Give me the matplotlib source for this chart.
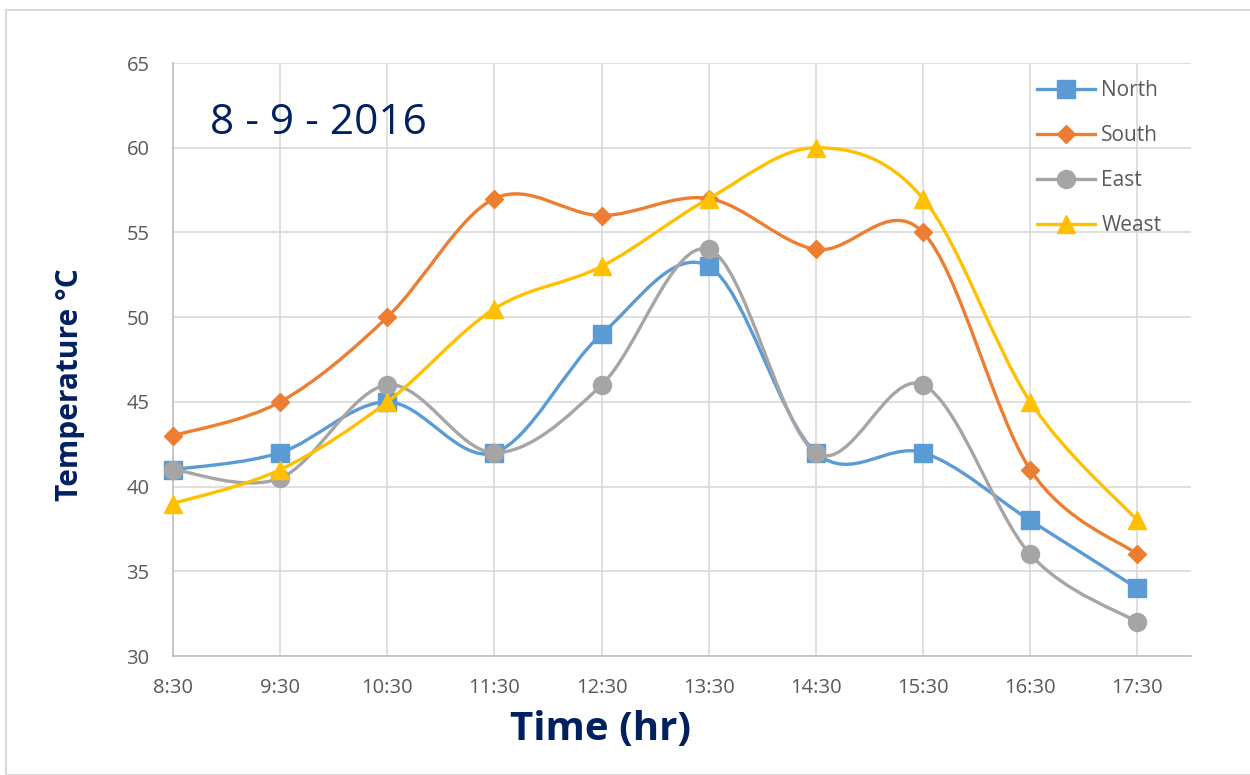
import numpy as np
import matplotlib.pyplot as plt
from matplotlib.path import Path
from matplotlib.patches import PathPatch, Rectangle
from matplotlib.lines import Line2D

times = ["8:30", "9:30", "10:30", "11:30", "12:30", "13:30", "14:30", "15:30", "16:30", "17:30"]
north = [41, 42, 45, 42, 49, 53, 42, 42, 38, 34]
south = [43, 45, 50, 57, 56, 57, 54, 55, 41, 36]
east = [41, 40.5, 46, 42, 46, 54, 42, 46, 36, 32]
weast = [39, 41, 45, 50.5, 53, 57, 60, 57, 45, 38]

series = [
    ("North", north, "#5B9BD5", "s", 13),
    ("South", south, "#ED7D31", "D", 9.5),
    ("East", east, "#A5A5A5", "o", 13),
    ("Weast", weast, "#FFC000", "^", 13),
]

navy = "#002060"
grey_txt = "#595959"
plt.rcParams['font.family'] = ['Open Sans', 'DejaVu Sans']


def smooth_path(xs, ys):
    # Excel-like smoothed line: cubic Bezier through the points
    p = np.column_stack([xs, ys]).astype(float)
    verts = [p[0]]
    codes = [Path.MOVETO]
    n = len(p)
    for i in range(n - 1):
        p0 = p[i - 1] if i > 0 else p[i]
        p3 = p[i + 2] if i + 2 < n else p[i + 1]
        c1 = p[i] + (p[i + 1] - p0) / 6.0
        c2 = p[i + 1] - (p3 - p[i]) / 6.0
        verts += [c1, c2, p[i + 1]]
        codes += [Path.CURVE4] * 3
    return Path(verts, codes)


fig = plt.figure(figsize=(12.5, 7.75), dpi=100)
fig.patches.append(Rectangle((6 / 1250, 0), 1250, (775 - 10) / 775, transform=fig.transFigure,
                             fill=False, edgecolor="#D9D9D9", linewidth=1.5))
ax = fig.add_axes([0.1384, 0.1535, 0.8144, 0.7652])

x = np.arange(len(times))
handles = []
for z, (name, vals, col, mk, ms) in enumerate(series):
    ax.add_patch(PathPatch(smooth_path(x, vals), fill=False, edgecolor=col,
                           linewidth=2.4, zorder=3 + z, capstyle='round', clip_on=False))
    ax.plot(x, vals, linestyle='none', marker=mk, markersize=ms, color=col,
            markeredgecolor=col, zorder=3.5 + z, clip_on=False)
    handles.append(Line2D([], [], color=col, linewidth=2.4, marker=mk, markersize=ms,
                          markeredgecolor=col))

ax.set_xlim(0, 9.5)
ax.set_ylim(30, 65)
ax.set_yticks(range(30, 66, 5))
ax.set_xticks(x)
ax.set_xticklabels(times)
ax.grid(True, color="#D9D9D9", linewidth=1.2)
ax.set_axisbelow(True)
for s in ["top", "right"]:
    ax.spines[s].set_visible(False)
for s in ["left", "bottom"]:
    ax.spines[s].set_color("#BFBFBF")
    ax.spines[s].set_linewidth(1.2)
ax.tick_params(axis='both', length=0, labelsize=14.5, labelcolor=grey_txt)
ax.tick_params(axis='y', pad=17)
ax.tick_params(axis='x', pad=16)

ax.text(0.036, 0.898, "8 - 9 - 2016", transform=ax.transAxes, fontsize=30.5,
        color=navy, ha='left', va='center')
fig.text(601 / 1250, 1 - 730 / 775, "Time (hr)", fontsize=29, fontweight='bold',
         color=navy, ha='center', va='center')
fig.text(70 / 1250, 1 - 385 / 775, "Temperature °C", fontsize=21.5, fontweight='bold',
         color=navy, ha='center', va='center', rotation=90)

leg = ax.legend(handles, [s[0] for s in series], loc='upper left',
                bbox_to_anchor=(0.830, 1.003), frameon=False, fontsize=15,
                labelcolor=grey_txt, handlelength=2.8, labelspacing=1.15,
                handletextpad=0.3, numpoints=1)

fig.savefig("out.png", dpi=100)
